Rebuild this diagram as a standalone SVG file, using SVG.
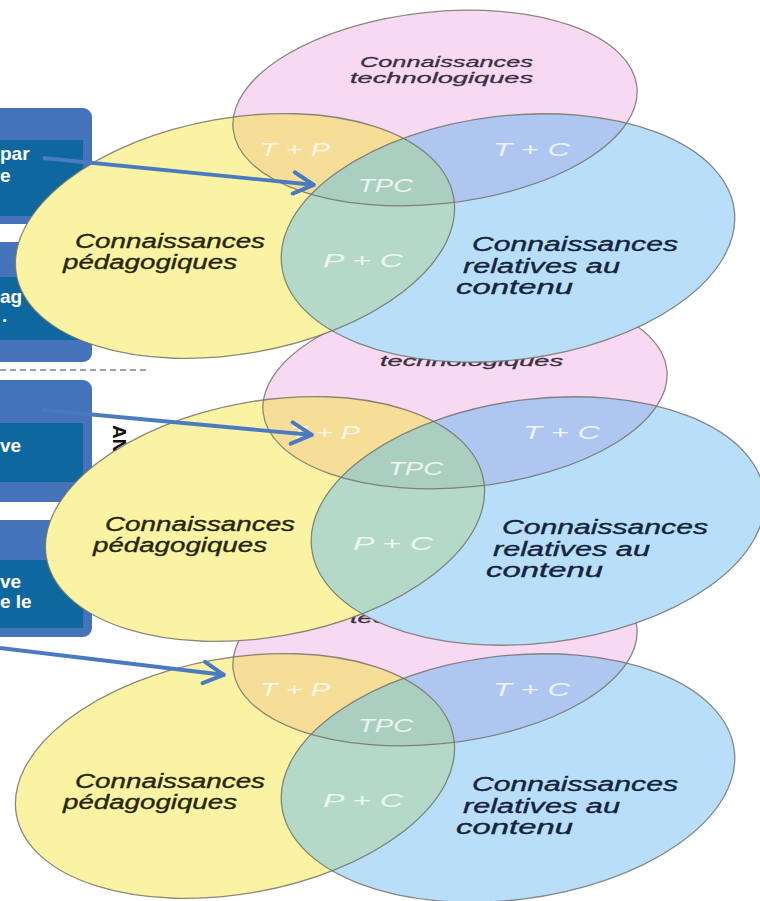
<svg xmlns="http://www.w3.org/2000/svg" xmlns:xlink="http://www.w3.org/1999/xlink" width="760" height="901" viewBox="0 0 760 901">
  <style>
    .pink{fill:#F7DAF1}
    .yel{fill:#FAF3A3}
    .blu{fill:#B8DEF9}
    .tp{fill:#F6DE98}
    .tc{fill:#AFC6F1}
    .pc{fill:#B4D9C8}
    .tpc{fill:#AACFC0}
    .edge{fill:none;stroke:#74746a;stroke-width:1.3;stroke-opacity:.85}
    .lab{font-family:"Liberation Sans",Arial,sans-serif;font-style:italic}
    .wt{fill:#ffffff;fill-opacity:.8;font-size:18px}
    .tk{fill:#3a3044;stroke:#3a3044;stroke-width:.3;font-size:15px}
    .pk{fill:#26260f;stroke:#26260f;stroke-width:.35;font-size:20px}
    .ck{fill:#14243a;stroke:#14243a;stroke-width:.35;font-size:20px}
    .boxOut{fill:#4473BA}
    .boxIn{fill:#0F679F}
    .bt{fill:#ffffff;font-family:"Liberation Sans",Arial,sans-serif;font-weight:bold;font-size:19px}
    .side{fill:#111111;font-family:"Liberation Sans",Arial,sans-serif;font-weight:bold;font-size:19px}
    .arrow{stroke:#4A7BC0;stroke-width:3.8;fill:none;marker-end:url(#head)}
  </style>
  <defs>
    <!-- the three circles of the model, in local coordinates -->
    <ellipse id="eT" cx="435" cy="108" rx="203" ry="96" transform="rotate(-6 435 108)"/>
    <ellipse id="eP" cx="235" cy="236" rx="222" ry="118" transform="rotate(-10 235 236)"/>
    <ellipse id="eC" cx="508" cy="238" rx="228" ry="122" transform="rotate(-7 508 238)"/>
    <clipPath id="cT"><ellipse cx="435" cy="108" rx="203" ry="96" transform="rotate(-6 435 108)"/></clipPath>
    <clipPath id="cP"><ellipse cx="235" cy="236" rx="222" ry="118" transform="rotate(-10 235 236)"/></clipPath>
    <!-- filled areas and overlaps of one diagram -->
    <g id="vennShapes">
      <use href="#eT" class="pink"/>
      <use href="#eP" class="yel"/>
      <g clip-path="url(#cT)"><use href="#eP" class="tp"/></g>
      <use href="#eC" class="blu"/>
      <g clip-path="url(#cT)"><use href="#eC" class="tc"/></g>
      <g clip-path="url(#cP)">
        <use href="#eC" class="pc"/>
        <g clip-path="url(#cT)"><use href="#eC" class="tpc"/></g>
      </g>
      <use href="#eT" class="edge"/>
      <use href="#eP" class="edge"/>
      <use href="#eC" class="edge"/>
    </g>
    <marker id="head" viewBox="0 0 12 12" refX="10.5" refY="6" markerWidth="7.5" markerHeight="7.5" orient="auto" markerUnits="strokeWidth">
      <path d="M1.5,1.5 L10,6 L1.5,10.5" fill="none" stroke="#4A7BC0" stroke-width="1.7" stroke-linecap="round" stroke-linejoin="round"/>
    </marker>
  </defs>

  <rect width="760" height="901" fill="#ffffff"/>

  <!-- side panel boxes -->
  <g id="boxes">
    <g id="box1">
      <rect class="boxOut" x="-20" y="108" width="112" height="116" rx="9"/>
      <rect class="boxIn" x="-20" y="140" width="103" height="76"/>
      <text class="bt" x="0" y="160">par</text>
      <text class="bt" x="0" y="182">e</text>
    </g>
    <g id="box2">
      <rect class="boxOut" x="-20" y="242" width="112" height="120" rx="9"/>
      <rect class="boxIn" x="-20" y="277" width="103" height="63"/>
      <text class="bt" x="0" y="303">ag</text>
      <text class="bt" x="2" y="322">.</text>
    </g>
    <line id="separator" x1="0" y1="370" x2="148" y2="370" stroke="#9aa2ac" stroke-width="2" stroke-dasharray="6 4"/>
    <g id="box3">
      <rect class="boxOut" x="-20" y="380" width="112" height="122" rx="9"/>
      <rect class="boxIn" x="-20" y="423" width="103" height="59"/>
      <text class="bt" x="0" y="452">ve</text>
    </g>
    <g id="box4">
      <rect class="boxOut" x="-20" y="520" width="112" height="117" rx="9"/>
      <rect class="boxIn" x="-20" y="560" width="103" height="68"/>
      <text class="bt" x="0" y="588">ve</text>
      <text class="bt" x="0" y="608">e le</text>
    </g>
    <text class="side" transform="translate(113 425) rotate(90)">AN</text>
  </g>

  <!-- lowest diagram -->
  <g id="venn-bottom" transform="translate(0 540)">
    <use href="#vennShapes"/>
    <text class="lab tk" x="360" y="67" textLength="173" lengthAdjust="spacingAndGlyphs">Connaissances</text>
    <text class="lab tk" x="350" y="83" textLength="183" lengthAdjust="spacingAndGlyphs">technologiques</text>
    <text class="lab wt" x="260" y="156" textLength="70" lengthAdjust="spacingAndGlyphs">T + P</text>
    <text class="lab wt" x="493" y="156" textLength="77" lengthAdjust="spacingAndGlyphs">T + C</text>
    <text class="lab wt" x="358" y="192" textLength="55" lengthAdjust="spacingAndGlyphs">TPC</text>
    <text class="lab wt" x="323" y="267" textLength="80" lengthAdjust="spacingAndGlyphs">P + C</text>
    <text class="lab pk" x="75" y="248" textLength="190" lengthAdjust="spacingAndGlyphs">Connaissances</text>
    <text class="lab pk" x="63" y="269" textLength="174" lengthAdjust="spacingAndGlyphs">pédagogiques</text>
    <text class="lab ck" x="472" y="251" textLength="206" lengthAdjust="spacingAndGlyphs">Connaissances</text>
    <text class="lab ck" x="463" y="273" textLength="157" lengthAdjust="spacingAndGlyphs">relatives au</text>
    <text class="lab ck" x="456" y="294" textLength="117" lengthAdjust="spacingAndGlyphs">contenu</text>
  </g>

  <!-- middle diagram -->
  <g id="venn-middle" transform="translate(30 283)">
    <use href="#vennShapes"/>
    <text class="lab tk" x="360" y="67" textLength="173" lengthAdjust="spacingAndGlyphs">Connaissances</text>
    <text class="lab tk" x="350" y="83" textLength="183" lengthAdjust="spacingAndGlyphs">technologiques</text>
    <text class="lab wt" x="260" y="156" textLength="70" lengthAdjust="spacingAndGlyphs">T + P</text>
    <text class="lab wt" x="493" y="156" textLength="77" lengthAdjust="spacingAndGlyphs">T + C</text>
    <text class="lab wt" x="358" y="192" textLength="55" lengthAdjust="spacingAndGlyphs">TPC</text>
    <text class="lab wt" x="323" y="267" textLength="80" lengthAdjust="spacingAndGlyphs">P + C</text>
    <text class="lab pk" x="75" y="248" textLength="190" lengthAdjust="spacingAndGlyphs">Connaissances</text>
    <text class="lab pk" x="63" y="269" textLength="174" lengthAdjust="spacingAndGlyphs">pédagogiques</text>
    <text class="lab ck" x="472" y="251" textLength="206" lengthAdjust="spacingAndGlyphs">Connaissances</text>
    <text class="lab ck" x="463" y="273" textLength="157" lengthAdjust="spacingAndGlyphs">relatives au</text>
    <text class="lab ck" x="456" y="294" textLength="117" lengthAdjust="spacingAndGlyphs">contenu</text>
  </g>

  <!-- top diagram -->
  <g id="venn-top">
    <use href="#vennShapes"/>
    <text class="lab tk" x="360" y="67" textLength="173" lengthAdjust="spacingAndGlyphs">Connaissances</text>
    <text class="lab tk" x="350" y="83" textLength="183" lengthAdjust="spacingAndGlyphs">technologiques</text>
    <text class="lab wt" x="260" y="156" textLength="70" lengthAdjust="spacingAndGlyphs">T + P</text>
    <text class="lab wt" x="493" y="156" textLength="77" lengthAdjust="spacingAndGlyphs">T + C</text>
    <text class="lab wt" x="358" y="192" textLength="55" lengthAdjust="spacingAndGlyphs">TPC</text>
    <text class="lab wt" x="323" y="267" textLength="80" lengthAdjust="spacingAndGlyphs">P + C</text>
    <text class="lab pk" x="75" y="248" textLength="190" lengthAdjust="spacingAndGlyphs">Connaissances</text>
    <text class="lab pk" x="63" y="269" textLength="174" lengthAdjust="spacingAndGlyphs">pédagogiques</text>
    <text class="lab ck" x="472" y="251" textLength="206" lengthAdjust="spacingAndGlyphs">Connaissances</text>
    <text class="lab ck" x="463" y="273" textLength="157" lengthAdjust="spacingAndGlyphs">relatives au</text>
    <text class="lab ck" x="456" y="294" textLength="117" lengthAdjust="spacingAndGlyphs">contenu</text>
  </g>

  <!-- pointers from the side panel -->
  <g id="connectors">
    <line class="arrow" x1="43" y1="158" x2="315" y2="185"/>
    <line class="arrow" x1="43" y1="410" x2="313" y2="435"/>
    <line class="arrow" x1="0" y1="648" x2="225" y2="675"/>
  </g>
</svg>
